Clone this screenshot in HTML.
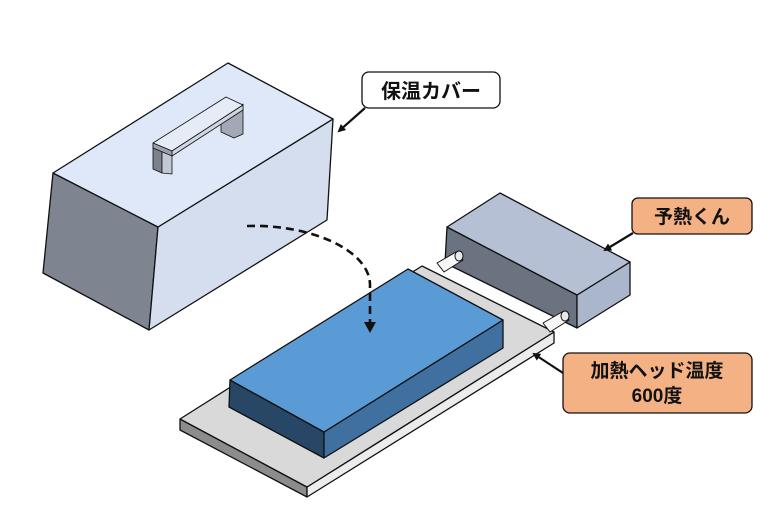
<!DOCTYPE html>
<html><head><meta charset="utf-8"><style>
body{margin:0;background:#fff;}
svg{display:block}
text{font-family:"Liberation Sans","Noto Sans CJK JP",sans-serif;font-weight:bold;fill:#111}
</style></head><body>
<svg width="765" height="506" viewBox="0 0 765 506" xmlns="http://www.w3.org/2000/svg">
<defs><marker id="ah" markerWidth="8" markerHeight="8" refX="6" refY="4" orient="auto" markerUnits="userSpaceOnUse"><path d="M0,0 L8,4 L0,8 z" fill="#111"/></marker></defs>
<g stroke="#111" stroke-width="1.3" stroke-linejoin="round">
<!-- cover -->
<polygon points="53,173 158,227 149,330 43,273" fill="#7e8490"/>
<polygon points="158,227 333,119 327,220 149,330" fill="#d4deef"/>
<polygon points="53,173 228,63 333,119 158,227" fill="#dfe8f8"/>
<!-- handle -->
<polygon points="221,115 243,104 243,134 234,138 221,132" fill="#a3a9b4" stroke-width="0.8"/>
<polygon points="153,145 162,150 162,173 153,169" fill="#7c828d" stroke-width="0.8"/>
<polygon points="162,150 172,154 172,174 162,173" fill="#c2c9d4" stroke-width="0.8"/>
<polygon points="153,143 226,97 243,105 172,151" fill="#e6ecf6" stroke-width="0.8"/>
<polygon points="172,151 243,105 243,110 172,156" fill="#cfd6e1" stroke-width="0.8"/>
<polygon points="153,143 172,151 172,156 153,148" fill="#9aa1ad" stroke-width="0.8"/>
<!-- plate -->
<polygon points="180,419 307,487 307,497 180,430" fill="#8c8c8c"/>
<polygon points="307,487 554,332 554,343 307,497" fill="#ececec"/>
<polygon points="180,419 422,266 554,332 307,487" fill="#d9d9d9"/>
<!-- preheater -->
<polygon points="447,227 577,295 577,328 445,263" fill="#6b7280"/>
<polygon points="577,295 630,262 630,295 577,328" fill="#aab6cc"/>
<polygon points="447,227 500,193 630,262 577,295" fill="#b5c0d5"/>
<!-- rods -->
<polygon points="437,263 456,252 463,260 444,272" fill="#f6f6f6" stroke-width="1"/>
<ellipse cx="459" cy="256" rx="4" ry="5" fill="#e8e8e8" stroke-width="1"/>
<polygon points="543,323 562,312 569,320 550,332" fill="#f6f6f6" stroke-width="1"/>
<ellipse cx="565" cy="316" rx="4" ry="5" fill="#e8e8e8" stroke-width="1"/>
<!-- blue block -->
<polygon points="230,380 324,432 324,458 229,407" fill="#284766"/>
<polygon points="324,432 503,320 503,348 324,458" fill="#3f70a0"/>
<polygon points="230,380 408,269 503,320 324,432" fill="#5b9bd5"/>
</g>
<!-- dashed arrow -->
<path d="M247,226 C310,224 370,250 370,285 L370,322" fill="none" stroke="#111" stroke-width="2.6" stroke-dasharray="8,5"/>
<path d="M364,322 L376,322 L370,333 z" fill="#111"/>
<!-- callouts -->
<g stroke="#111" stroke-width="2.2" fill="none" marker-end="url(#ah)">
<line x1="365" y1="108" x2="339" y2="131"/>
<line x1="633" y1="233" x2="605" y2="250"/>
<line x1="563" y1="373" x2="534" y2="354"/>
</g>
<rect x="362" y="72" width="138" height="36" rx="7" fill="#fff" stroke="#111" stroke-width="1.3"/>
<text x="431" y="98" font-size="20" text-anchor="middle">保温カバー</text>
<rect x="632" y="198" width="120" height="36" rx="6" fill="#f4b183" stroke="#111" stroke-width="1.3"/>
<text x="692" y="223" font-size="19" text-anchor="middle">予熱くん</text>
<rect x="563" y="353" width="189" height="60" rx="7" fill="#f4b183" stroke="#111" stroke-width="1.3"/>
<text x="657" y="377" font-size="19" text-anchor="middle">加熱ヘッド温度</text>
<text x="657" y="402" font-size="19" text-anchor="middle">600度</text>
</svg>
</body></html>
